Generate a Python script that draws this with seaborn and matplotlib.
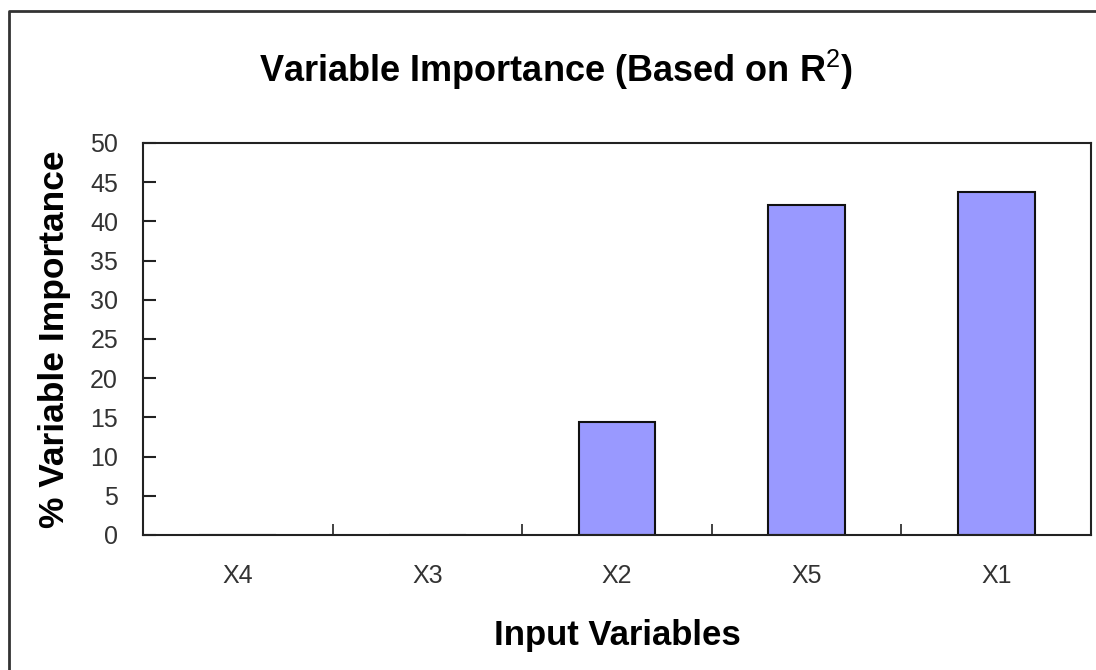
import matplotlib
matplotlib.use("Agg")
import matplotlib.pyplot as plt
from matplotlib.lines import Line2D
from matplotlib.ticker import FixedLocator
import seaborn as sns
import pandas as pd

# Relative importance of each input variable (percent)
variables = ["X4", "X3", "X2", "X5", "X1"]
importance = [0.0, 0.0, 14.4, 42.1, 43.75]
y_ticks = [0, 5, 10, 15, 20, 25, 30, 35, 40, 45, 50]

sns.set_theme(style="white")
plt.rcParams["font.family"] = ["Liberation Sans", "DejaVu Sans"]
plt.rcParams["mathtext.fontset"] = "custom"
plt.rcParams["mathtext.rm"] = "Liberation Sans"

df = pd.DataFrame({"variable": variables, "importance": importance})

fig = plt.figure(figsize=(10.96, 6.70), dpi=100)
ax = fig.add_axes([143 / 1096, 1 - 535 / 670, (1091 - 143) / 1096, (535 - 143) / 670])

sns.barplot(data=df, x="variable", y="importance", order=variables,
            color="#9999ff", saturation=1, width=0.405,
            edgecolor="#111111", linewidth=1.5, ax=ax)

ax.set_xlim(-0.5, len(variables) - 0.5)
ax.set_ylim(0, 50)
ax.set_yticks(y_ticks)

for side in ax.spines.values():
    side.set_visible(True)
    side.set_color("#222222")
    side.set_linewidth(1.5)

ax.tick_params(axis="y", direction="in", length=9, width=1.5, color="#222222",
               pad=18, labelsize=18, labelcolor="#333333", left=True)
ax.tick_params(axis="x", which="major", length=0, pad=21, labelsize=18,
               labelcolor="#333333")
ax.xaxis.set_minor_locator(FixedLocator([i + 0.5 for i in range(len(variables) - 1)]))
ax.tick_params(axis="x", which="minor", direction="in", length=8, width=1.2,
               color="#222222", bottom=True)

ax.set_xlabel("Input Variables", fontsize=25, fontweight="bold", labelpad=22,
              color="black")
ax.set_ylabel("% Variable Importance", fontsize=25.5, fontweight="bold", labelpad=14,
              color="black")

fig.text(556 / 1096, 1 - 70 / 670, r"Variable Importance (Based on R$^{2}$)",
         ha="center", va="center", fontsize=26, fontweight="bold", color="black")

# Outer chart frame (left and top edges)
fig.add_artist(Line2D([9 / 1096, 9 / 1096, 1.0], [0.0, 1 - 11 / 670, 1 - 11 / 670],
                      transform=fig.transFigure, color="#333333", linewidth=2))

fig.savefig("out.png", dpi=100)
